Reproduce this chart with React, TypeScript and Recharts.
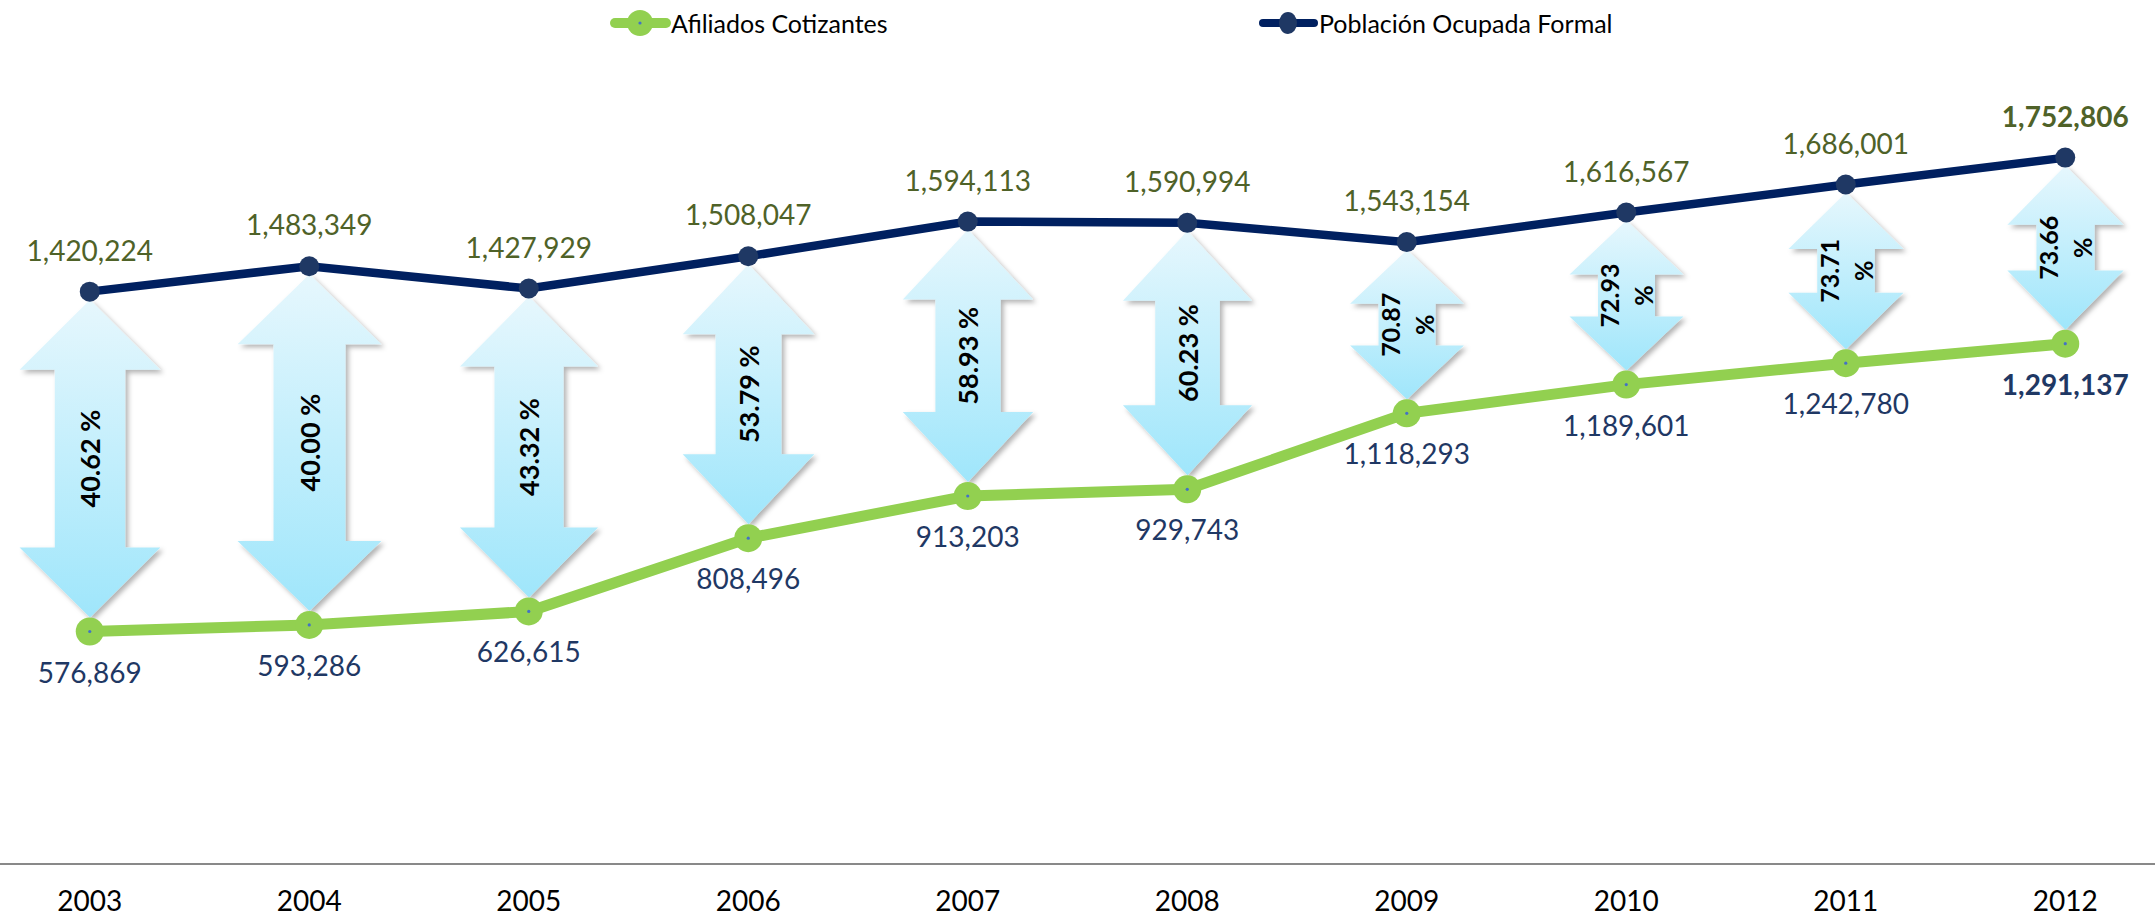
import React from "react";
import {
  ComposedChart,
  Line,
  Bar,
  XAxis,
  YAxis,
  Legend,
} from "recharts";

const years = ["2003", "2004", "2005", "2006", "2007", "2008", "2009", "2010", "2011", "2012"];
const afiliados = [576869, 593286, 626615, 808496, 913203, 929743, 1118293, 1189601, 1242780, 1291137];
const poblacion = [1420224, 1483349, 1427929, 1508047, 1594113, 1590994, 1543154, 1616567, 1686001, 1752806];
const porcentajes = ["40.62", "40.00", "43.32", "53.79", "58.93", "60.23", "70.87", "72.93", "73.71", "73.66"];

const data = years.map((year, i) => ({
  year,
  afiliados: afiliados[i],
  poblacion: poblacion[i],
  brecha: [afiliados[i], poblacion[i]],
  pct: porcentajes[i],
}));

const GREEN = "#92D050";
const NAVY = "#002060";
const NAVY_DOT = "#1F3864";
const OLIVE = "#4F6228";
const FONT = "Lato, 'Open Sans', sans-serif";

const fmt = (v: number) => v.toLocaleString("en-US");
const last = years.length - 1;

const NavyDot = (props: any) => {
  const { cx, cy } = props;
  return <circle cx={cx} cy={cy} r={10} fill={NAVY_DOT} />;
};

const GreenDot = (props: any) => {
  const { cx, cy } = props;
  return (
    <g>
      <circle cx={cx} cy={cy} r={14} fill={GREEN} />
      <circle cx={cx} cy={cy} r={1.6} fill="#4472C4" />
    </g>
  );
};

const NavyLabel = (props: any) => {
  const { x, y, value, index } = props;
  return (
    <text
      x={x}
      y={y - 31}
      textAnchor="middle"
      fontFamily={FONT}
      fontSize={28}
      fontWeight={index === last ? 700 : 400}
      fill={OLIVE}
    >
      {fmt(value)}
    </text>
  );
};

const GreenLabel = (props: any) => {
  const { x, y, value, index } = props;
  return (
    <text
      x={x}
      y={y + 51}
      textAnchor="middle"
      fontFamily={FONT}
      fontSize={28}
      fontWeight={index === last ? 700 : 400}
      fill={NAVY_DOT}
    >
      {fmt(value)}
    </text>
  );
};

// double headed arrow between the two series
const ArrowShape = (props: any) => {
  const { x, y, width, height, index, payload } = props;
  const cx = x + width / 2;
  const y0 = Math.min(y, y + height);
  const h = Math.abs(height);
  const top = y0 + 8;
  const bottom = y0 + h - 14;
  const len = bottom - top;
  const headW = Math.min(145, 90 + len * 0.16);
  const shaftW = headW * 0.5;
  const headH = Math.min(70, len * 0.36);
  const pts = [
    [cx, top],
    [cx + headW / 2, top + headH],
    [cx + shaftW / 2, top + headH],
    [cx + shaftW / 2, bottom - headH],
    [cx + headW / 2, bottom - headH],
    [cx, bottom],
    [cx - headW / 2, bottom - headH],
    [cx - shaftW / 2, bottom - headH],
    [cx - shaftW / 2, top + headH],
    [cx - headW / 2, top + headH],
  ]
    .map((p) => p.join(","))
    .join(" ");
  const mid = (top + bottom) / 2;
  const gid = `arrowGrad${index}`;
  const fid = `arrowShadow${index}`;
  const wrap = len < 200;
  return (
    <g>
      <defs>
        <linearGradient id={gid} x1="0" y1="0" x2="0" y2="1">
          <stop offset="0%" stopColor="#E6F7FD" />
          <stop offset="100%" stopColor="#9FE6FB" />
        </linearGradient>
        <filter id={fid} x="-20%" y="-20%" width="140%" height="140%">
          <feDropShadow dx={3} dy={3} stdDeviation={2.5} floodColor="#000" floodOpacity={0.3} />
        </filter>
      </defs>
      <polygon points={pts} fill={`url(#${gid})`} filter={`url(#${fid})`} />
      <g transform={`rotate(-90 ${cx} ${mid})`} fontFamily={FONT} fontWeight={700} fill="#000">
        {wrap ? (
          <>
            <text x={cx} y={mid - 17} textAnchor="middle" dominantBaseline="central" fontSize={25}>
              {payload.pct}
            </text>
            <text x={cx} y={mid + 17} textAnchor="middle" dominantBaseline="central" fontSize={25}>
              %
            </text>
          </>
        ) : (
          <text x={cx} y={mid} textAnchor="middle" dominantBaseline="central" fontSize={27}>
            {`${payload.pct} %`}
          </text>
        )}
      </g>
    </g>
  );
};

const YearTick = (props: any) => {
  const { x, y, payload } = props;
  return (
    <text x={x} y={y + 47} textAnchor="middle" fontFamily={FONT} fontSize={28} fill="#000">
      {payload.value}
    </text>
  );
};

const legendItems = [
  { label: "Afiliados Cotizantes", color: GREEN, left: 630, lw: 10, rx: 13, ry: 13, inner: true },
  { label: "Población Ocupada Formal", color: NAVY, left: 1278, lw: 8, rx: 9, ry: 11, inner: false },
];

const LegendBox = () => (
  <div style={{ position: "relative", width: 2195, height: 58 }}>
    {legendItems.map((it) => (
      <div
        key={it.label}
        style={{
          position: "absolute",
          left: it.left,
          top: 8,
          height: 30,
          display: "flex",
          alignItems: "center",
        }}
      >
        <svg width={61} height={30}>
          <line x1={5} y1={15} x2={56} y2={15} stroke={it.color} strokeWidth={it.lw} strokeLinecap="round" />
          <ellipse cx={30} cy={15} rx={it.rx} ry={it.ry} fill={it.inner ? GREEN : NAVY_DOT} />
          {it.inner && <circle cx={30} cy={15} r={1.6} fill="#4472C4" />}
        </svg>
        <span style={{ fontFamily: FONT, fontSize: 25, color: "#000", lineHeight: "30px" }}>{it.label}</span>
      </div>
    ))}
  </div>
);

export default function App() {
  return (
    <div
      style={{
        position: "absolute",
        left: 0,
        top: 0,
        width: 2155,
        height: 919,
        overflow: "hidden",
        background: "#fff",
      }}
    >
      <div style={{ position: "absolute", left: -20, top: 0 }}>
        <ComposedChart
          width={2195}
          height={919}
          data={data}
          margin={{ top: 0, right: 0, bottom: 0, left: 0 }}
        >
          <XAxis
            dataKey="year"
            height={55}
            tickLine={false}
            tickSize={0}
            tickMargin={0}
            axisLine={{ stroke: "#898989", strokeWidth: 2 }}
            tick={<YearTick />}
            interval={0}
          />
          <YAxis hide domain={[0, 2000000]} />
          <Legend verticalAlign="top" align="left" content={<LegendBox />} />
          <Bar
            dataKey="brecha"
            barSize={140}
            shape={<ArrowShape />}
            legendType="none"
            isAnimationActive={false}
          />
          <Line
            type="linear"
            dataKey="afiliados"
            stroke={GREEN}
            strokeWidth={11}
            dot={<GreenDot />}
            activeDot={false}
            label={<GreenLabel />}
            isAnimationActive={false}
          />
          <Line
            type="linear"
            dataKey="poblacion"
            stroke={NAVY}
            strokeWidth={8.5}
            dot={<NavyDot />}
            activeDot={false}
            label={<NavyLabel />}
            isAnimationActive={false}
          />
        </ComposedChart>
      </div>
    </div>
  );
}
